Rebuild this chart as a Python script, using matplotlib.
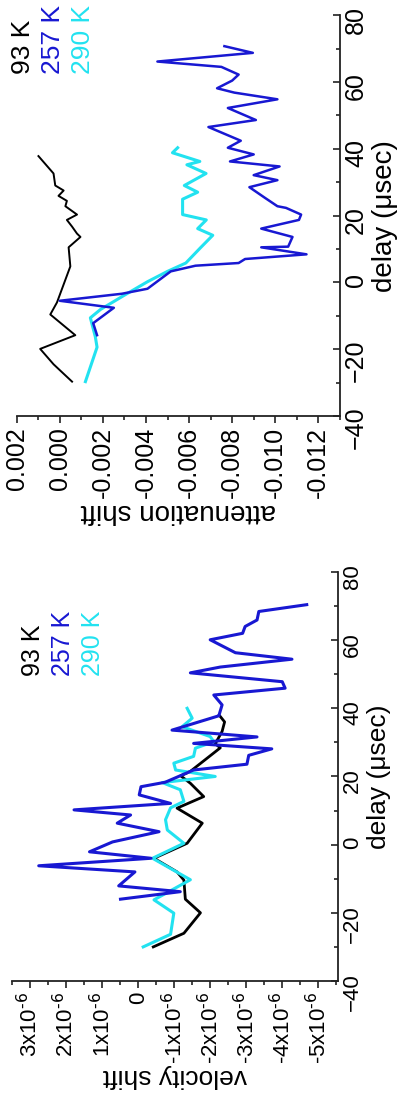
import numpy as np
import matplotlib
matplotlib.use("Agg")
import matplotlib.pyplot as plt
from matplotlib.ticker import FixedLocator, FixedFormatter, MultipleLocator

plt.rcParams['font.family'] = ['Liberation Sans', 'DejaVu Sans']
plt.rcParams['mathtext.default'] = 'regular'

# ---- velocity shift panel (values in units of 1e-6) ----
vel_delay_93 = [-30, -26, -20, -16, -10.4, -8, -4, 0.4, 6.3, 10.7, 14.1, 18, 20.2, 21.5,
                28.4, 29.6, 33.2, 36, 38]
vel_93 = [-0.42, -1.27, -1.73, -1.31, -1.27, -1.08, -0.44, -1.36, -1.78, -1.08, -1.82, -1.45,
          -1.18, -1.45, -2.28, -2.14, -2.33, -2.4, -2.25]

vel_delay_257 = [-16, -13.8, -12.1, -8, -6.2, -4, -2.1, 0.8, 3.8, 6.3, 8.7, 10.2, 12.1, 14.6,
                 17, 18.3, 21.9, 23.6, 26.2, 28.1, 29.7, 31.6, 33.6, 37.8, 41, 43.9, 45.9,
                 47.8, 50.4, 52.1, 54.4, 56.3, 60.1, 62, 64, 65.9, 68.4, 70.4]
vel_257 = [0.49, -1.17, 0.54, 0.09, 2.76, -0.36, 1.35, 0.71, -0.58, 0.58, 0.21, 1.78, -0.9,
           -0.03, -0.08, -0.75, -1.54, -3.02, -3.07, -3.71, -1.54, -3.3, -0.94, -2.24, -2.33,
           -2.1, -4.08, -4.0, -1.45, -2.28, -4.27, -2.7, -2.0, -2.9, -2.97, -3.3, -3.35, -4.68]

vel_delay_290 = [-30, -26.3, -20.1, -16.2, -10.3, -4, 0.4, 4.3, 7.3, 10.8, 12.7, 16.1, 18.2,
                 20, 21.9, 23.9, 25.9, 28.3, 30.2, 31.7, 34.6, 37.1, 40]
vel_290 = [-0.14, -0.9, -0.99, -0.44, -1.45, -0.4, -1.27, -0.81, -0.76, -0.9, -1.27, -1.17,
           -0.67, -2.14, -1.04, -0.99, -1.54, -1.59, -2.1, -2.0, -1.22, -1.5, -1.36]

# ---- attenuation shift panel (values in units of 1e-3) ----
att_delay_93 = [-29.7, -24.5, -19.9, -15.8, -9.6, -6, 4.8, 10.5, 13.6, 14.6, 16.7, 18.7,
                20.3, 22.8, 24.4, 25.9, 27.5, 29, 32.6, 37.8]
att_93 = [-0.57, 0.29, 0.91, -0.72, 0.44, 0.13, -0.49, -0.41, -0.96, -0.8, -0.57, -0.33,
          -0.8, -0.26, -0.33, 0.06, -0.18, 0.21, 0.29, 0.99]

att_delay_257 = [-15.8, -12.2, -7.6, -5.5, -3.4, -1.9, 3.3, 5.0, 5.8, 7.0, 8.4, 10.5, 10.7,
                 13.6, 16.1, 18.7, 20.3, 22.3, 22.8, 25.4, 28.5, 30.6, 32.1, 34.7, 36.2, 38.3,
                 40.3, 42.4, 46.5, 48.6, 52.2, 54.8, 56.8, 58.1, 60.4, 62.2, 64.5, 66.1,
                 68.7, 70.7]
att_257 = [-1.73, -1.55, -2.51, 0.0, -2.88, -4.07, -5.15, -6.3, -8.3, -8.6, -11.45, -9.35,
           -10.6, -10.8, -9.35, -11.1, -11.2, -10.5, -10.1, -9.5, -8.8, -10.1, -9.0, -10.2,
           -7.9, -9.0, -7.8, -8.4, -6.9, -9.1, -7.8, -10.1, -8.1, -7.3, -8.0, -8.3, -7.5,
           -4.53, -8.96, -7.64]

att_delay_290 = [-29.7, -19.4, -16.3, -10.6, -8.1, -3.9, 0.2, 3.3, 5.8, 10.5, 14.1, 16.1,
                 18.7, 20.3, 24.9, 27, 29, 32.6, 35.2, 36.2, 38.8, 40.3]
att_290 = [-1.19, -1.73, -1.65, -1.42, -1.89, -2.98, -4.07, -5.0, -5.85, -6.55, -7.1, -6.4,
           -6.8, -5.7, -5.7, -6.4, -5.78, -6.79, -5.9, -6.5, -5.23, -5.47]

series_names = ['93 K', '257 K', '290 K']
series_colors = ['black', '#1818d2', '#22e2f0']

delay_ticks = [-40, -20, 0, 20, 40, 60, 80]
vel_ticks = [3e-6, 2e-6, 1e-6, 0, -1e-6, -2e-6, -3e-6, -4e-6, -5e-6]
vel_labels = ['3x10$^{\\text{-6}}$', '2x10$^{\\text{-6}}$', '1x10$^{\\text{-6}}$', '0',
              '-1x10$^{\\text{-6}}$', '-2x10$^{\\text{-6}}$', '-3x10$^{\\text{-6}}$',
              '-4x10$^{\\text{-6}}$', '-5x10$^{\\text{-6}}$']
att_ticks = [0.002, 0.0, -0.002, -0.004, -0.006, -0.008, -0.010, -0.012]
att_labels = ['0.002', '0.000', '-0.002', '-0.004', '-0.006', '-0.008', '-0.010', '-0.012']

fig = plt.figure(figsize=(4.02, 10.94), dpi=100)
ax_v = fig.add_axes([0.030, 0.1033, 0.811, 0.3739])
ax_a = fig.add_axes([0.0415, 0.6197, 0.804, 0.3665])


def style(ax, ticks, labels, minor, xlabel, fs, lfs):
    # page is turned: delay runs upward on the right, shift runs along the bottom
    for s in ['left', 'top']:
        ax.spines[s].set_visible(False)
    for s in ['right', 'bottom']:
        ax.spines[s].set_linewidth(1.3)
        ax.spines[s].set_color('#222222')
    ax.set_ylim(-40, 80)
    ax.yaxis.set_major_locator(FixedLocator(delay_ticks))
    ax.yaxis.set_minor_locator(MultipleLocator(10))
    ax.yaxis.tick_right()
    ax.yaxis.set_label_position('right')
    ax.tick_params(axis='y', which='both', direction='in', labelsize=fs,
                   labelrotation=90, pad=3, color='#222222')
    ax.tick_params(axis='y', which='major', length=5, width=1.2)
    ax.tick_params(axis='y', which='minor', length=3, width=1.2)
    ax.xaxis.set_major_locator(FixedLocator(ticks))
    ax.xaxis.set_major_formatter(FixedFormatter(labels))
    ax.xaxis.set_minor_locator(MultipleLocator(minor))
    ax.tick_params(axis='x', which='both', direction='out', labelsize=fs,
                   labelrotation=90, pad=3, color='#222222')
    ax.tick_params(axis='x', which='major', length=5, width=1.2)
    ax.tick_params(axis='x', which='minor', length=3, width=1.2)
    ax.set_ylabel('delay (\u03bcsec)', fontsize=lfs, rotation=90, labelpad=3)
    ax.set_xlabel(xlabel, fontsize=lfs, rotation=180, labelpad=0)


# velocity panel
ax_v.plot(np.array(vel_93) * 1e-6, vel_delay_93, color=series_colors[0], lw=2.0)
ax_v.plot(np.array(vel_290) * 1e-6, vel_delay_290, color=series_colors[2], lw=2.2)
ax_v.plot(np.array(vel_257) * 1e-6, vel_delay_257, color=series_colors[1], lw=2.2)
ax_v.set_xlim(3.5e-6, -5.55e-6)
style(ax_v, vel_ticks, vel_labels, 0.5e-6, 'velocity shift', 16, 19)
for i, (name, c) in enumerate(zip(series_names, series_colors)):
    ax_v.text(0.064 + 0.092 * i, 0.745, name, color=c, fontsize=18, rotation=90,
              ha='center', va='bottom', transform=ax_v.transAxes)

# attenuation panel
ax_a.plot(np.array(att_93) * 1e-3, att_delay_93, color=series_colors[0], lw=1.4)
ax_a.plot(np.array(att_290) * 1e-3, att_delay_290, color=series_colors[2], lw=2.2)
ax_a.plot(np.array(att_257) * 1e-3, att_delay_257, color=series_colors[1], lw=1.8)
ax_a.set_xlim(0.002, -0.013)
style(ax_a, att_ticks, att_labels, 0.001, 'attenuation shift', 18, 20)
for i, (name, c) in enumerate(zip(series_names, series_colors)):
    ax_a.text(0.018 + 0.093 * i, 0.853, name, color=c, fontsize=19, rotation=90,
              ha='center', va='bottom', transform=ax_a.transAxes)

fig.savefig('out.png', dpi=100)
